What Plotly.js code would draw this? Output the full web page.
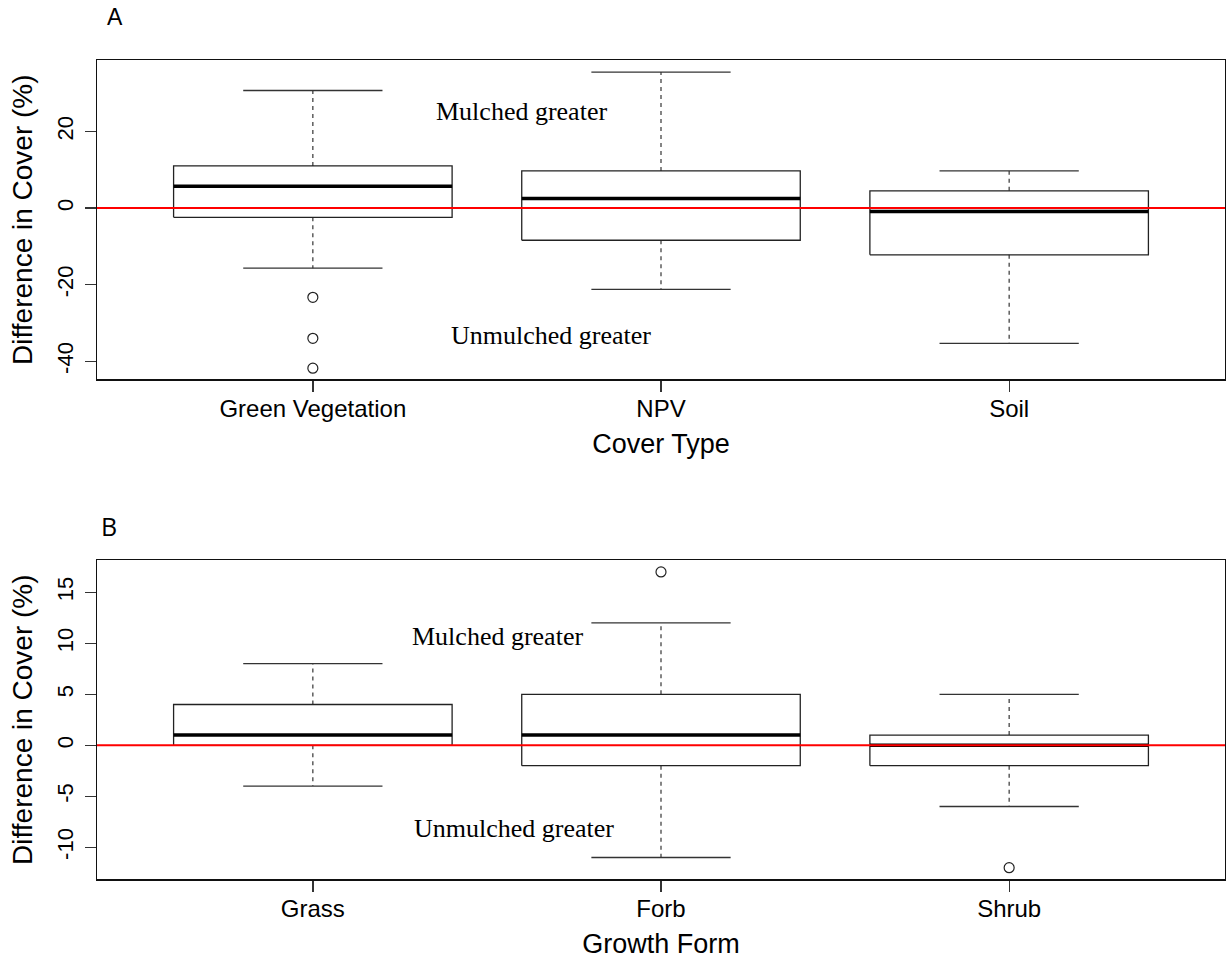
<!DOCTYPE html>
<html>
<head>
<meta charset="utf-8">
<script src="https://cdn.plot.ly/plotly-3.0.1.min.js"></script>
<style>html,body{margin:0;padding:0;background:#fff;}#chart{width:1226px;height:961px;}</style>
</head>
<body>
<div id="chart"></div>
<script>
// Panel A: Cover type
const coverTypes = ["Green Vegetation", "NPV", "Soil"];
const coverLowerWhisker = [-15.7, -21.2, -35.3];
const coverQ1 = [-2.4, -8.4, -12.2];
const coverMedian = [5.7, 2.5, -0.9];
const coverQ3 = [11.0, 9.7, 4.5];
const coverUpperWhisker = [30.7, 35.5, 9.7];
const coverOutliers = [[-23.3, -34.0, -41.8], [], []];
const coverTicks = [-40, -20, 0, 20];

// Panel B: Growth form
const growthForms = ["Grass", "Forb", "Shrub"];
const growthLowerWhisker = [-4, -11, -6];
const growthQ1 = [0, -2, -2];
const growthMedian = [1, 1, 0];
const growthQ3 = [4, 5, 1];
const growthUpperWhisker = [8, 12, 5];
const growthOutliers = [[], [17], [-12]];
const growthTicks = [-10, -5, 0, 5, 10, 15];

const annotationTexts = ["Mulched greater", "Unmulched greater"];
const panelLabels = ["A", "B"];

const BOX_HALF = 0.4, CAP_HALF = 0.2;

function panelTraces(cats, lo, q1, med, q3, hi, outs, xa, ya) {
  const bx = [], by = [], mx = [], my = [], wx = [], wy = [], cx = [], cy = [], ox = [], oy = [];
  cats.forEach((c, i) => {
    const p = i + 1;
    bx.push(p - BOX_HALF, p + BOX_HALF, p + BOX_HALF, p - BOX_HALF, p - BOX_HALF, null);
    by.push(q1[i], q1[i], q3[i], q3[i], q1[i], null);
    mx.push(p - BOX_HALF, p + BOX_HALF, null);
    my.push(med[i], med[i], null);
    wx.push(p, p, null, p, p, null);
    wy.push(q3[i], hi[i], null, q1[i], lo[i], null);
    cx.push(p - CAP_HALF, p + CAP_HALF, null, p - CAP_HALF, p + CAP_HALF, null);
    cy.push(hi[i], hi[i], null, lo[i], lo[i], null);
    outs[i].forEach(v => { ox.push(p); oy.push(v); });
  });
  const common = {xaxis: xa, yaxis: ya, mode: 'lines', hoverinfo: 'skip', showlegend: false};
  return [
    Object.assign({}, common, {x: wx, y: wy, line: {color: '#333', width: 1.2, dash: '4px,4px'}}),
    Object.assign({}, common, {x: cx, y: cy, line: {color: '#333', width: 1.3}}),
    Object.assign({}, common, {x: bx, y: by, line: {color: '#222', width: 1.3}}),
    Object.assign({}, common, {x: mx, y: my, line: {color: '#000', width: 3.5}}),
    {x: ox, y: oy, xaxis: xa, yaxis: ya, mode: 'markers', showlegend: false, hoverinfo: 'skip',
     marker: {symbol: 'circle-open', size: 10, color: '#222', line: {width: 1.2, color: '#222'}}}
  ];
}

const data = [].concat(
  panelTraces(coverTypes, coverLowerWhisker, coverQ1, coverMedian, coverQ3, coverUpperWhisker, coverOutliers, 'x', 'y'),
  panelTraces(growthForms, growthLowerWhisker, growthQ1, growthMedian, growthQ3, growthUpperWhisker, growthOutliers, 'x2', 'y2')
);

const sans = 'Liberation Sans, Arial, sans-serif';
const serif = 'Liberation Serif, Times New Roman, serif';

function xAxis(cats, title, anchor) {
  return {
    anchor: anchor, domain: [0, 1], range: [0.38, 3.62],
    tickvals: [1, 2, 3], ticktext: cats,
    showline: true, mirror: true, linecolor: '#111', linewidth: 1.3,
    ticks: 'outside', ticklen: 11, tickwidth: 1.3, tickcolor: '#333',
    ticklabelstandoff: -3,
    showgrid: false, zeroline: false,
    tickfont: {family: sans, size: 24, color: '#000'},
    title: {text: title, font: {family: sans, size: 27, color: '#000'}, standoff: 12}
  };
}
function yAxis(ticks, range, domain, anchor) {
  return {
    anchor: anchor, domain: domain, range: range,
    tickvals: ticks, ticktext: ticks.map(String), tickangle: -90,
    showline: true, mirror: true, linecolor: '#111', linewidth: 1.3,
    ticks: 'outside', ticklen: 11, tickwidth: 1.3, tickcolor: '#333',
    ticklabelstandoff: 3,
    showgrid: false, zeroline: false,
    tickfont: {family: sans, size: 22, color: '#000'},
    title: {text: 'Difference in Cover (%)', font: {family: sans, size: 28, color: '#000'}, standoff: 12}
  };
}

const layout = {
  width: 1226, height: 961,
  margin: {l: 97, r: 1, t: 0, b: 0},
  paper_bgcolor: '#fff', plot_bgcolor: '#fff',
  showlegend: false,
  xaxis: xAxis(coverTypes, 'Cover Type', 'y'),
  yaxis: yAxis(coverTicks, [-44.7, 38.66], [1 - 379.3 / 961, 1 - 60 / 961], 'x'),
  xaxis2: xAxis(growthForms, 'Growth Form', 'y2'),
  yaxis2: yAxis(growthTicks, [-13.14, 18.17], [1 - 879.3 / 961, 1 - 560 / 961], 'x2'),
  shapes: [
    {type: 'line', xref: 'x domain', yref: 'y', x0: 0, x1: 1, y0: 0, y1: 0, line: {color: '#ff0000', width: 2}, layer: 'above'},
    {type: 'line', xref: 'x2 domain', yref: 'y2', x0: 0, x1: 1, y0: 0, y1: 0, line: {color: '#ff0000', width: 2}, layer: 'above'}
  ],
  annotations: [
    {xref: 'x', yref: 'y', x: 1.60, y: 25.3, text: annotationTexts[0], showarrow: false, font: {family: serif, size: 26, color: '#000'}},
    {xref: 'x', yref: 'y', x: 1.683, y: -33.2, text: annotationTexts[1], showarrow: false, font: {family: serif, size: 26, color: '#000'}},
    {xref: 'x2', yref: 'y2', x: 1.531, y: 10.67, text: annotationTexts[0], showarrow: false, font: {family: serif, size: 26, color: '#000'}},
    {xref: 'x2', yref: 'y2', x: 1.579, y: -8.16, text: annotationTexts[1], showarrow: false, font: {family: serif, size: 26, color: '#000'}},
    {xref: 'paper', yref: 'paper', xanchor: 'center', yanchor: 'middle', x: (115 - 97) / 1128, y: 1 - 17 / 961, text: panelLabels[0], showarrow: false, font: {family: sans, size: 23, color: '#000'}},
    {xref: 'paper', yref: 'paper', xanchor: 'center', yanchor: 'middle', x: (109 - 97) / 1128, y: 1 - 526 / 961, text: panelLabels[1], showarrow: false, font: {family: 'Open Sans, sans-serif', size: 25, color: '#000'}}
  ]
};

Plotly.newPlot('chart', data, layout, {displayModeBar: false, staticPlot: true});
</script>
</body>
</html>
